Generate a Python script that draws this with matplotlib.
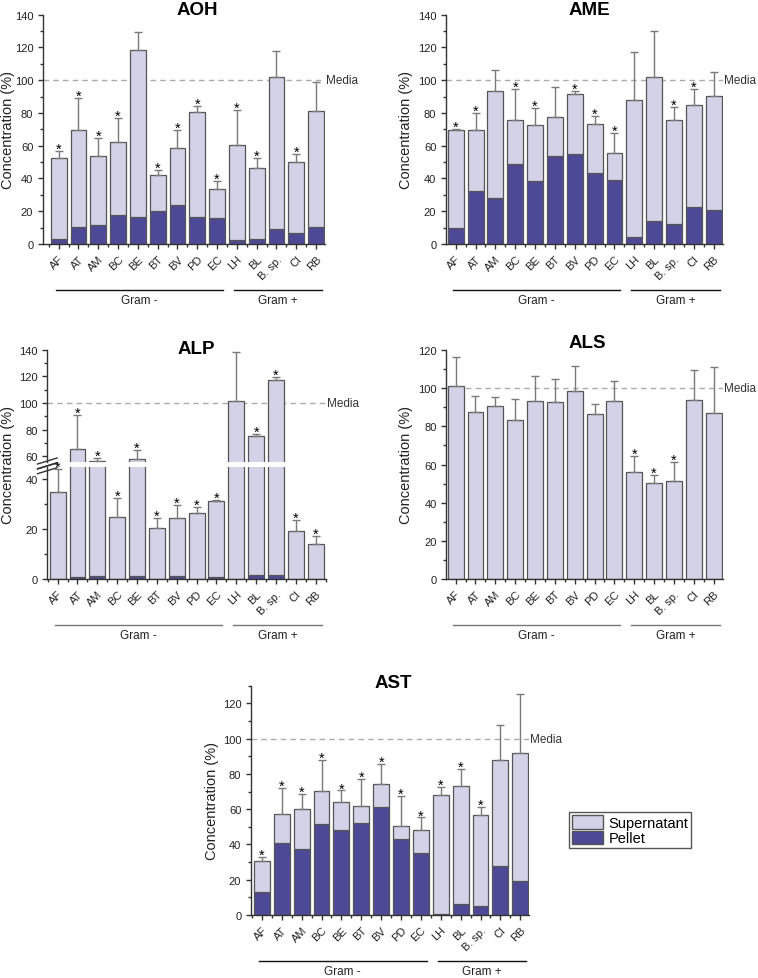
import matplotlib
matplotlib.use("Agg")
import matplotlib.pyplot as plt
import numpy as np
from matplotlib.patches import Patch
from matplotlib.ticker import MultipleLocator

plt.rcParams['font.family'] = ['Liberation Sans', 'DejaVu Sans']

strains = ['AF', 'AT', 'AM', 'BC', 'BE', 'BT', 'BV', 'PD', 'EC', 'LH', 'BL', 'B. sp.', 'CI', 'RB']
gram_groups = [('Gram -', 0, 8), ('Gram +', 9, 13)]

# AOH
aoh_total = [52.3, 69.6, 53.9, 62.1, 118.4, 42.3, 58.4, 80.4, 33.6, 60.6, 46.2, 102.0, 50.3, 81.0]
aoh_pellet = [3.0, 10.2, 11.6, 17.7, 16.3, 20.3, 23.8, 16.5, 15.9, 2.4, 3.0, 9.4, 6.5, 10.2]
aoh_sd = [4.7, 19.3, 11.0, 15.0, 11.0, 2.7, 11.4, 3.6, 4.7, 21.2, 6.1, 16.0, 4.6, 18.1]
aoh_star = [1, 1, 1, 1, 0, 1, 1, 1, 1, 1, 1, 0, 1, 0]

# AME
ame_total = [69.6, 69.6, 93.2, 75.5, 72.4, 77.5, 91.6, 73.3, 55.5, 87.7, 102.2, 75.5, 84.7, 90.6]
ame_pellet = [9.8, 32.4, 28.3, 48.8, 38.3, 53.5, 55.1, 43.3, 39.3, 4.0, 13.8, 12.5, 22.4, 20.8]
ame_sd = [0.8, 10.2, 13.0, 19.1, 10.4, 18.1, 2.0, 4.6, 12.2, 29.4, 28.0, 8.2, 9.9, 14.6]
ame_star = [1, 1, 0, 1, 1, 0, 1, 1, 1, 0, 0, 1, 1, 0]

# ALP
alp_total = [34.7, 65.2, 56.5, 24.7, 58.3, 20.3, 24.3, 26.3, 31.1, 101.7, 75.5, 117.5, 19.1, 14.0]
alp_pellet = [0.0, 0.7, 1.2, 0.0, 1.2, 0.0, 1.0, 0.0, 0.7, 0.0, 1.5, 1.5, 0.0, 0.0]
alp_sd = [9.3, 25.8, 2.0, 7.6, 6.7, 4.2, 5.3, 2.4, 0.4, 36.3, 1.3, 1.8, 4.6, 3.1]
alp_star = [1, 1, 1, 1, 1, 1, 1, 1, 1, 0, 1, 1, 1, 1]

# ALS
als_total = [101.3, 87.7, 90.8, 83.5, 93.1, 92.6, 98.7, 86.5, 93.4, 56.2, 50.1, 51.5, 93.8, 86.8]
als_pellet = [0.0] * 14
als_sd = [14.9, 8.4, 4.4, 10.8, 13.5, 12.2, 13.1, 5.2, 10.5, 8.4, 4.4, 9.6, 15.7, 24.5]
als_star = [0, 0, 0, 0, 0, 0, 0, 0, 0, 1, 1, 1, 0, 0]

# AST
ast_total = [30.4, 57.5, 60.0, 70.4, 64.3, 61.9, 74.5, 50.6, 48.3, 68.3, 73.2, 56.6, 87.9, 92.1]
ast_pellet = [12.8, 40.6, 37.2, 51.5, 48.1, 51.9, 61.5, 43.0, 35.1, 0.4, 6.0, 4.9, 27.9, 19.2]
ast_sd = [2.6, 14.4, 8.5, 17.5, 6.3, 15.1, 11.0, 16.8, 7.0, 4.5, 9.8, 4.9, 20.0, 33.2]
ast_star = [1, 1, 1, 1, 1, 1, 1, 1, 1, 1, 1, 1, 0, 0]

SUPER = '#d3d2e8'
PELLET = '#4c4997'
EDGE = '#555555'
ERR = '#7a7a7a'
W, H = 758, 979

fig = plt.figure(figsize=(W / 100, H / 100), dpi=100)
x = np.arange(len(strains))


def add_ax(x0, x1, y0, y1):
    # pixel box of the plot area -> figure fraction
    return fig.add_axes([x0 / W, 1 - y1 / H, (x1 - x0) / W, (y1 - y0) / H])


def px_h(ax):
    return ax.get_position().height * H


def draw(ax, total, pellet, sd, star):
    ax.bar(x, pellet, 0.8, color=PELLET, edgecolor=EDGE, linewidth=0.9, zorder=2)
    ax.bar(x, np.subtract(total, pellet), 0.8, bottom=pellet, color=SUPER,
           edgecolor=EDGE, linewidth=0.9, zorder=2)
    ax.errorbar(x, total, yerr=[np.zeros(len(x)), sd], fmt='none', ecolor=ERR,
                elinewidth=1, capsize=3, capthick=1, zorder=3)
    for i in x:
        if star[i]:
            ax.annotate('*', (i, total[i] + sd[i]), xytext=(0, -3.5),
                        textcoords='offset points', ha='center', va='bottom',
                        fontsize=10.5, zorder=4)
    ax.axhline(100, color='#ababab', ls=(0, (4, 3)), lw=1, zorder=1)


def style(ax, xlim, ylim, major, bottom=True):
    ax.set_xlim(*xlim)
    ax.set_ylim(*ylim)
    for s in ['top', 'right']:
        ax.spines[s].set_visible(False)
    for s in ['left', 'bottom']:
        ax.spines[s].set_color('#333333')
        ax.spines[s].set_linewidth(1)
    ax.yaxis.set_major_locator(MultipleLocator(major))
    ax.yaxis.set_minor_locator(MultipleLocator(major / 2))
    ax.tick_params(axis='both', which='major', direction='out', length=3.5,
                   width=1, colors='#333333', labelsize=8, labelcolor='#222222')
    ax.tick_params(axis='both', which='minor', direction='out', length=2,
                   width=1, colors='#333333')
    if bottom:
        ax.set_xticks(x)
        ax.set_xticklabels(strains, rotation=45, ha='right', rotation_mode='anchor')
        ax.xaxis.set_minor_locator(MultipleLocator(0.5))
    else:
        ax.spines['bottom'].set_visible(False)
        ax.set_xticks([])


def media(ax):
    ax.text(1.005, 100, 'Media', transform=ax.get_yaxis_transform(),
            ha='left', va='center', fontsize=8.5, color='#333333')


def gram(ax, color):
    h = px_h(ax)
    tr = ax.get_xaxis_transform()
    for name, a, b in gram_groups:
        ax.plot([a - 0.15, b + 0.3], [-46 / h, -46 / h], transform=tr,
                color=color, lw=1, clip_on=False)
        ax.text((a + b) / 2 + 0.07, -56 / h, name, transform=tr, ha='center',
                va='center', fontsize=8.5, color='#222222')


def title(ax, text, xf, up):
    ax.text(xf, 1 + up / px_h(ax), text, transform=ax.transAxes, ha='center',
            va='center', fontsize=13.5, fontweight='bold')


def ylabel(ax, width_px, gap_px):
    ax.set_ylabel('Concentration (%)', fontsize=10.5, color='#222222', va='center')
    ax.yaxis.set_label_coords(-gap_px / width_px, 0.5)


# AOH
ax = add_ax(43, 325, 15.7, 245)
draw(ax, aoh_total, aoh_pellet, aoh_sd, aoh_star)
style(ax, (-0.79, 13.45), (0, 140), 20)
media(ax)
gram(ax, '#111111')
title(ax, 'AOH', 0.546, 5.5)
ylabel(ax, 282, 35)

# AME
ax = add_ax(446, 723, 15.7, 245)
draw(ax, ame_total, ame_pellet, ame_sd, ame_star)
style(ax, (-0.49, 13.47), (0, 140), 20)
media(ax)
gram(ax, '#111111')
title(ax, 'AME', 0.518, 5.5)
ylabel(ax, 277, 40)

# ALP (broken axis)
ax_hi = add_ax(47.3, 326, 350.7, 463)
ax_lo = add_ax(47.3, 326, 467.7, 580)
for a in (ax_hi, ax_lo):
    draw(a, alp_total, alp_pellet, alp_sd, alp_star)
style(ax_hi, (-0.52, 13.52), (55.7, 140), 20, bottom=False)
style(ax_lo, (-0.52, 13.52), (0, 44.9), 20)
media(ax_hi)
gram(ax_lo, '#777777')
title(ax_hi, 'ALP', 0.535, 1.5)
for a, y in ((ax_hi, 0.0), (ax_lo, 1.0)):
    for dy in (-4, 1):
        a.plot([-0.035, 0.035], [y + (dy - 3) / 112.3, y + (dy + 3) / 112.3],
               transform=a.transAxes, color='#333333', lw=1, clip_on=False)
fig.text(8.5 / W, 1 - 465.4 / H, 'Concentration (%)', rotation=90,
         ha='center', va='center', fontsize=10.5, color='#222222')

# ALS
ax = add_ax(446.3, 723, 351, 580)
draw(ax, als_total, als_pellet, als_sd, als_star)
style(ax, (-0.47, 13.47), (0, 120), 20)
media(ax)
gram(ax, '#777777')
title(ax, 'ALS', 0.51, 7)
ylabel(ax, 276.7, 40)

# AST
ax = add_ax(251, 529, 686.7, 916)
draw(ax, ast_total, ast_pellet, ast_sd, ast_star)
style(ax, (-0.55, 13.44), (0, 130), 20)
media(ax)
gram(ax, '#111111')
title(ax, 'AST', 0.511, 2.7)
ylabel(ax, 278, 39)

leg = fig.legend(handles=[Patch(facecolor=SUPER, edgecolor=EDGE),
                          Patch(facecolor=PELLET, edgecolor=EDGE)],
                 labels=['Supernatant', 'Pellet'], loc='upper left',
                 bbox_to_anchor=(569 / W, 1 - 813.3 / H), fontsize=10.5,
                 handlelength=2.1, handleheight=1.05, labelspacing=0.05,
                 handletextpad=0.4, borderpad=0.2, borderaxespad=0,
                 fancybox=False, edgecolor='#555555', framealpha=1)
leg.get_frame().set_linewidth(1)

fig.savefig('out.png', dpi=100)
